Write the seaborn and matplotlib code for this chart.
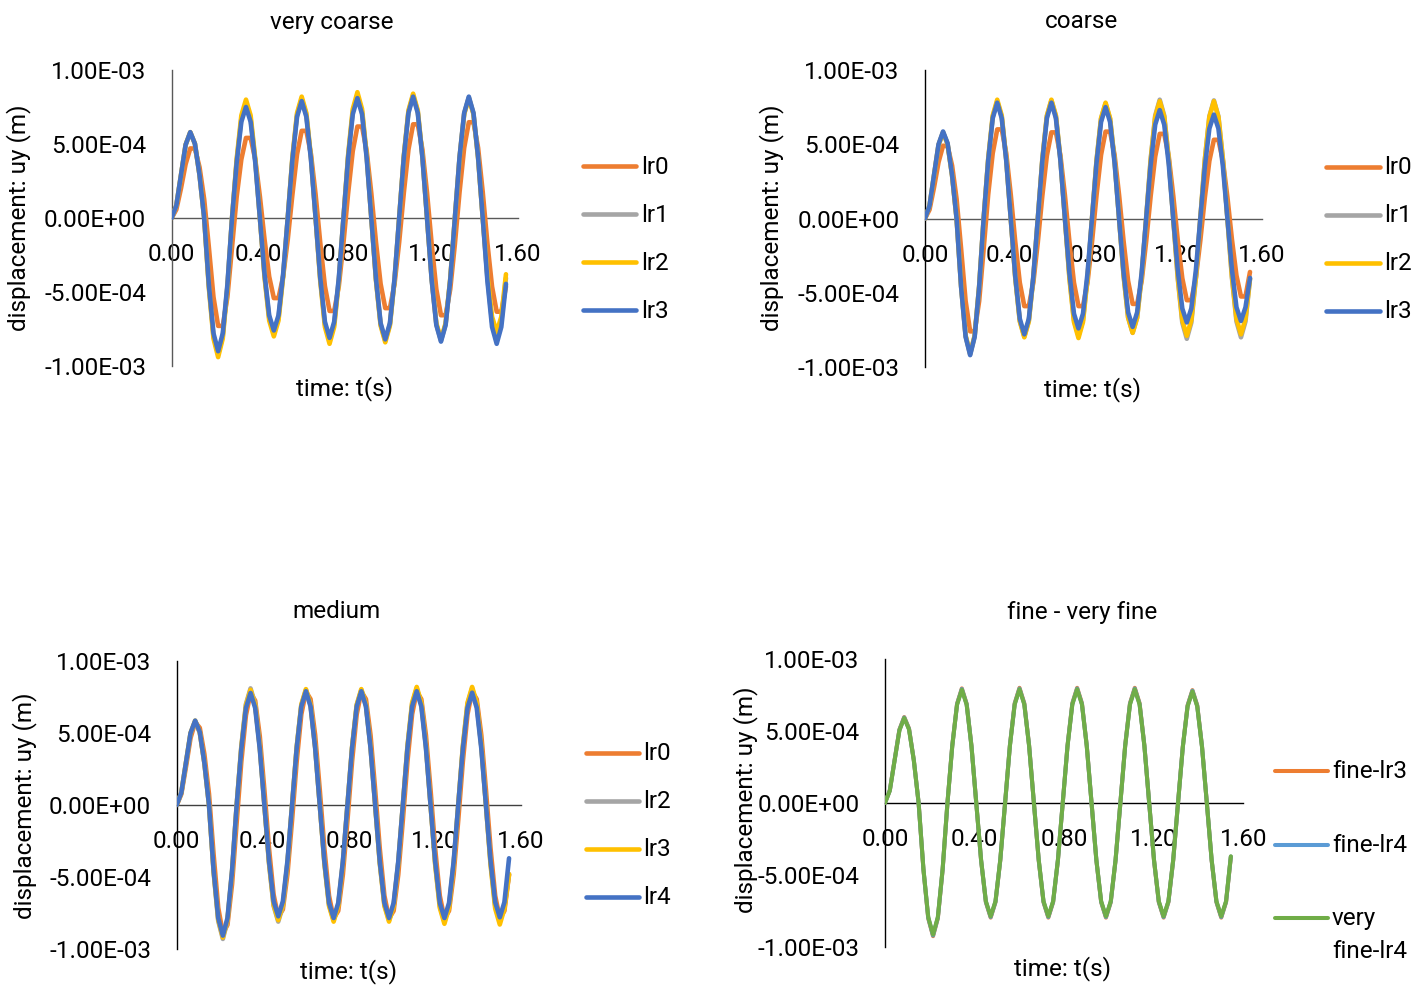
import numpy as np
import pandas as pd
import matplotlib
matplotlib.use("Agg")
import matplotlib.pyplot as plt
from matplotlib.lines import Line2D
import seaborn as sns

sns.set_theme(style="white")
plt.rcParams["font.family"] = ["Roboto", "DejaVu Sans"]

# output sample times in seconds (73 records, dt = 0.02145 s)
time = np.round(np.arange(73) * 0.02145, 5)

# vertical displacement uy, in units of 1e-4 m
# --- very coarse mesh ---
vc_lr0 = [0, 0.57, 2.0, 3.64, 4.70, 4.69, 3.43, 1.26,
          -1.96, -5.34, -7.29, -7.29, -5.34, -1.96,
          1.45, 3.96, 5.41, 5.41, 3.96, 1.45,
          -1.45, -3.96, -5.41, -5.41, -3.96, -1.45,
          1.58, 4.31, 5.89, 5.89, 4.31, 1.58,
          -1.68, -4.60, -6.28, -6.28, -4.60, -1.68,
          1.66, 4.52, 6.18, 6.18, 4.52, 1.66,
          -1.63, -4.45, -6.09, -6.09, -4.45, -1.63,
          1.70, 4.63, 6.33, 6.33, 4.63, 1.70,
          -1.76, -4.81, -6.57, -6.57, -4.81, -1.76,
          1.74, 4.74, 6.47, 6.47, 4.74, 1.74,
          -1.70, -4.63, -6.33, -6.33, -4.63]
vc_lr1 = [0, 0.84, 2.89, 4.94, 5.78, 5.01, 2.89,
          0, -4.6, -7.97, -9.2, -7.97, -4.6,
          0, 3.88, 6.71, 7.75, 6.71, 3.88,
          0, -3.9, -6.75, -7.8, -6.75, -3.9,
          0, 4.03, 6.97, 8.05, 6.97, 4.03,
          0, -4.15, -7.19, -8.3, -7.19, -4.15,
          0, 4.15, 7.19, 8.3, 7.19, 4.15,
          0, -4.15, -7.19, -8.3, -7.19, -4.15,
          0, 4.15, 7.19, 8.3, 7.19, 4.15,
          0, -4.15, -7.19, -8.3, -7.19, -4.15,
          0, 4.08, 7.06, 8.15, 7.06, 4.08,
          0, -4.05, -7.01, -8.1, -7.01, -4.05]
vc_lr2 = [0, 0.85, 2.9, 4.95, 5.8, 5.02, 2.9,
          0, -4.7, -8.14, -9.4, -8.14, -4.7,
          0, 4.0, 6.93, 8.0, 6.93, 4.0,
          0, -4.0, -6.93, -8.0, -6.93, -4.0,
          0, 4.1, 7.1, 8.2, 7.1, 4.1,
          0, -4.25, -7.36, -8.5, -7.36, -4.25,
          0, 4.25, 7.36, 8.5, 7.36, 4.25,
          0, -4.2, -7.27, -8.4, -7.27, -4.2,
          0, 4.2, 7.27, 8.4, 7.27, 4.2,
          0, -4.1, -7.1, -8.2, -7.1, -4.1,
          0, 4.05, 7.01, 8.1, 7.01, 4.05,
          0, -3.85, -6.67, -7.7, -6.67, -3.8]
vc_lr3 = [0, 0.85, 2.9, 4.95, 5.8, 5.02, 2.9,
          0, -4.5, -7.79, -9.0, -7.79, -4.5,
          0, 3.75, 6.5, 7.5, 6.5, 3.75,
          0, -3.8, -6.58, -7.6, -6.58, -3.8,
          0, 3.95, 6.84, 7.9, 6.84, 3.95,
          0, -4.05, -7.01, -8.1, -7.01, -4.05,
          0, 4.05, 7.01, 8.1, 7.01, 4.05,
          0, -4.1, -7.1, -8.2, -7.1, -4.1,
          0, 4.1, 7.1, 8.2, 7.1, 4.1,
          0, -4.18, -7.23, -8.35, -7.23, -4.18,
          0, 4.1, 7.1, 8.2, 7.1, 4.1,
          0, -4.25, -7.36, -8.5, -7.36, -4.45]

# --- coarse mesh ---
c_lr0 = [0, 0.59, 2.09, 3.79, 4.90, 4.88, 3.57, 1.31,
         -2.04, -5.56, -7.60, -7.60, -5.56, -2.04,
         1.61, 4.39, 6.0, 6.0, 4.39, 1.61,
         -1.58, -4.32, -5.90, -5.90, -4.32, -1.58,
         1.55, 4.24, 5.80, 5.80, 4.24, 1.55,
         -1.58, -4.32, -5.90, -5.90, -4.32, -1.58,
         1.57, 4.28, 5.85, 5.85, 4.28, 1.57,
         -1.54, -4.21, -5.75, -5.75, -4.21, -1.54,
         1.53, 4.17, 5.70, 5.70, 4.17, 1.53,
         -1.47, -4.02, -5.50, -5.50, -4.02, -1.47,
         1.42, 3.88, 5.30, 5.30, 3.88, 1.42,
         -1.41, -3.84, -5.25, -5.25, -3.6]
c_lr1 = [0, 0.85, 2.9, 4.95, 5.8, 5.02, 2.9,
         0, -4.58, -7.92, -9.15, -7.92, -4.58,
         0, 3.95, 6.84, 7.9, 6.84, 3.95,
         0, -3.98, -6.88, -7.95, -6.88, -3.98,
         0, 3.98, 6.88, 7.95, 6.88, 3.98,
         0, -3.95, -6.84, -7.9, -6.84, -3.95,
         0, 3.88, 6.71, 7.75, 6.71, 3.88,
         0, -3.85, -6.67, -7.7, -6.67, -3.85,
         0, 4.0, 6.93, 8.0, 6.93, 4.0,
         0, -4.05, -7.01, -8.1, -7.01, -4.05,
         0, 3.98, 6.88, 7.95, 6.88, 3.98,
         0, -4.0, -6.93, -8.0, -6.93, -4.05]
c_lr2 = [0, 0.85, 2.9, 4.95, 5.8, 5.02, 2.9,
         0, -4.55, -7.88, -9.1, -7.88, -4.55,
         0, 4.0, 6.93, 8.0, 6.93, 4.0,
         0, -4.0, -6.93, -8.0, -6.93, -4.0,
         0, 4.0, 6.93, 8.0, 6.93, 4.0,
         0, -4.03, -6.97, -8.05, -6.97, -4.03,
         0, 3.9, 6.75, 7.8, 6.75, 3.9,
         0, -3.85, -6.67, -7.7, -6.67, -3.85,
         0, 3.95, 6.84, 7.9, 6.84, 3.95,
         0, -3.95, -6.84, -7.9, -6.84, -3.95,
         0, 3.95, 6.84, 7.9, 6.84, 3.95,
         0, -3.9, -6.75, -7.8, -6.75, -4.05]
c_lr3 = [0, 0.86, 2.93, 5.0, 5.86, 5.07, 2.93,
         0, -4.6, -7.97, -9.2, -7.97, -4.6,
         0, 3.9, 6.75, 7.8, 6.75, 3.9,
         0, -3.9, -6.75, -7.8, -6.75, -3.9,
         0, 3.9, 6.75, 7.8, 6.75, 3.9,
         0, -3.7, -6.41, -7.4, -6.41, -3.7,
         0, 3.75, 6.5, 7.5, 6.5, 3.75,
         0, -3.65, -6.32, -7.3, -6.32, -3.65,
         0, 3.65, 6.32, 7.3, 6.32, 3.65,
         0, -3.5, -6.06, -7.0, -6.06, -3.5,
         0, 3.5, 6.06, 7.0, 6.06, 3.5,
         0, -3.45, -5.98, -6.9, -5.98, -4.0]

# --- medium mesh ---
m_lr0 = [0, 0.75, 2.63, 4.65, 5.75, 5.36, 3.53, 0.76,
         -3.45, -7.14, -8.92, -8.32, -5.48, -1.18,
         3.01, 6.23, 7.78, 7.25, 4.78, 1.03,
         -3.01, -6.23, -7.78, -7.25, -4.78, -1.03,
         3.04, 6.30, 7.88, 7.35, 4.84, 1.04,
         -3.04, -6.30, -7.88, -7.35, -4.84, -1.04,
         3.04, 6.30, 7.88, 7.35, 4.84, 1.04,
         -3.04, -6.30, -7.88, -7.35, -4.84, -1.04,
         3.04, 6.30, 7.88, 7.35, 4.84, 1.04,
         -3.04, -6.30, -7.88, -7.35, -4.84, -1.04,
         3.04, 6.30, 7.88, 7.35, 4.84, 1.04,
         -3.04, -6.30, -7.88, -7.35, -4.84]
m_lr2 = [0, 0.85, 2.9, 4.95, 5.8, 5.02, 2.9,
         0, -4.65, -8.05, -9.3, -8.05, -4.65,
         0, 4.05, 7.01, 8.1, 7.01, 4.05,
         0, -4.05, -7.01, -8.1, -7.01, -4.05,
         0, 4.0, 6.93, 8.0, 6.93, 4.0,
         0, -4.0, -6.93, -8.0, -6.93, -4.0,
         0, 4.0, 6.93, 8.0, 6.93, 4.0,
         0, -4.0, -6.93, -8.0, -6.93, -4.0,
         0, 4.05, 7.01, 8.1, 7.01, 4.05,
         0, -4.05, -7.01, -8.1, -7.01, -4.05,
         0, 4.05, 7.01, 8.1, 7.01, 4.05,
         0, -4.05, -7.01, -8.1, -7.01, -4.8]
m_lr3 = [0, 0.86, 2.93, 5.0, 5.86, 5.07, 2.93,
         0, -4.6, -7.97, -9.2, -7.97, -4.6,
         0, 4.0, 6.93, 8.0, 6.93, 4.0,
         0, -4.0, -6.93, -8.0, -6.93, -4.0,
         0, 4.03, 6.97, 8.05, 6.97, 4.03,
         0, -4.05, -7.01, -8.1, -7.01, -4.05,
         0, 4.03, 6.97, 8.05, 6.97, 4.03,
         0, -4.05, -7.01, -8.1, -7.01, -4.05,
         0, 4.1, 7.1, 8.2, 7.1, 4.1,
         0, -4.13, -7.14, -8.25, -7.14, -4.13,
         0, 4.1, 7.1, 8.2, 7.1, 4.1,
         0, -4.15, -7.19, -8.3, -7.19, -4.8]
m_lr4 = [0, 0.86, 2.93, 5.0, 5.86, 5.07, 2.93,
         0, -4.54, -7.85, -9.07, -7.85, -4.54,
         0, 3.89, 6.74, 7.78, 6.74, 3.89,
         0, -3.87, -6.69, -7.73, -6.69, -3.87,
         0, 3.95, 6.84, 7.9, 6.84, 3.95,
         0, -3.93, -6.80, -7.85, -6.80, -3.93,
         0, 3.95, 6.84, 7.9, 6.84, 3.95,
         0, -3.93, -6.80, -7.85, -6.80, -3.93,
         0, 3.95, 6.84, 7.9, 6.84, 3.95,
         0, -3.93, -6.80, -7.85, -6.80, -3.93,
         0, 3.9, 6.75, 7.8, 6.75, 3.9,
         0, -3.9, -6.75, -7.8, -6.75, -3.7]

# --- fine / very fine meshes ---
f_lr3 = [0, 0.87, 2.99, 5.10, 5.97, 5.17, 2.99,
         0, -4.63, -8.01, -9.25, -8.01, -4.63,
         0, 3.98, 6.89, 7.96, 6.89, 3.98,
         0, -3.98, -6.89, -7.96, -6.89, -3.98,
         0, 4.0, 6.93, 8.0, 6.93, 4.0,
         0, -3.98, -6.89, -7.96, -6.89, -3.98,
         0, 4.0, 6.93, 8.0, 6.93, 4.0,
         0, -3.98, -6.89, -7.96, -6.89, -3.98,
         0, 4.0, 6.93, 8.0, 6.93, 4.0,
         0, -3.98, -6.89, -7.96, -6.89, -3.98,
         0, 3.92, 6.79, 7.84, 6.79, 3.92,
         0, -3.98, -6.89, -7.96, -6.89, -3.75]
f_lr4 = [0, 0.87, 2.97, 5.07, 5.94, 5.14, 2.97,
         0, -4.6, -7.97, -9.2, -7.97, -4.6,
         0, 3.96, 6.86, 7.92, 6.86, 3.96,
         0, -3.96, -6.86, -7.92, -6.86, -3.96,
         0, 3.98, 6.88, 7.95, 6.88, 3.98,
         0, -3.96, -6.86, -7.92, -6.86, -3.96,
         0, 3.98, 6.88, 7.95, 6.88, 3.98,
         0, -3.96, -6.86, -7.92, -6.86, -3.96,
         0, 3.98, 6.88, 7.95, 6.88, 3.98,
         0, -3.96, -6.86, -7.92, -6.86, -3.96,
         0, 3.9, 6.75, 7.8, 6.75, 3.9,
         0, -3.96, -6.86, -7.92, -6.86, -3.72]
vf_lr4 = [0, 0.86, 2.95, 5.04, 5.9, 5.11, 2.95,
          0, -4.57, -7.92, -9.14, -7.92, -4.57,
          0, 3.94, 6.82, 7.87, 6.82, 3.94,
          0, -3.94, -6.82, -7.87, -6.82, -3.94,
          0, 3.95, 6.84, 7.9, 6.84, 3.95,
          0, -3.94, -6.82, -7.87, -6.82, -3.94,
          0, 3.95, 6.84, 7.9, 6.84, 3.95,
          0, -3.94, -6.82, -7.87, -6.82, -3.94,
          0, 3.95, 6.84, 7.9, 6.84, 3.95,
          0, -3.94, -6.82, -7.87, -6.82, -3.94,
          0, 3.88, 6.71, 7.75, 6.71, 3.88,
          0, -3.94, -6.82, -7.87, -6.82, -3.7]

x_ticks = [0.0, 0.4, 0.8, 1.2, 1.6]
x_tick_labels = ["0.00", "0.40", "0.80", "1.20", "1.60"]
y_ticks = [1e-3, 5e-4, 0.0, -5e-4, -1e-3]
y_tick_labels = ["1.00E-03", "5.00E-04", "0.00E+00", "-5.00E-04", "-1.00E-03"]

ORANGE, GRAY, YELLOW, BLUE = "#ED7D31", "#A5A5A5", "#FFC000", "#4472C4"
LIGHT_BLUE, GREEN = "#5B9BD5", "#70AD47"

W, H = 1427, 986
fig = plt.figure(figsize=(W / 100, H / 100), dpi=100)


def fx(px):
    return px / W


def fy(py):
    return 1.0 - py / H


FS = 17.5

panels = [
    dict(title="very coarse", names=["lr0", "lr1", "lr2", "lr3"],
         data=[vc_lr0, vc_lr1, vc_lr2, vc_lr3],
         colors=[ORANGE, GRAY, YELLOW, BLUE],
         box=(171.7, 518.0, 70, 366), title_xy=(332, 22), ylabel_xy=(19, 218),
         xlabel_xy=(345, 389), legend_x=(583, 636, 641),
         legend_y=[166, 214, 262, 310], lw=3.3,
         axis_colors=("#595959", "#595959")),
    dict(title="coarse", names=["lr0", "lr1", "lr2", "lr3"],
         data=[c_lr0, c_lr1, c_lr2, c_lr3],
         colors=[ORANGE, GRAY, YELLOW, BLUE],
         box=(925.0, 1261.7, 70, 367), title_xy=(1081, 22), ylabel_xy=(772, 218),
         xlabel_xy=(1093, 390), legend_x=(1326, 1380, 1384),
         legend_y=[167, 215, 263, 311], lw=3.3,
         axis_colors=("#000000", "#595959")),
    dict(title="medium", names=["lr0", "lr2", "lr3", "lr4"],
         data=[m_lr0, m_lr2, m_lr3, m_lr4],
         colors=[ORANGE, GRAY, YELLOW, BLUE],
         box=(176.7, 521.0, 661, 949), title_xy=(336, 612), ylabel_xy=(25, 806),
         xlabel_xy=(348, 972), legend_x=(586, 639, 643),
         legend_y=[753, 801, 849, 897], lw=3.3,
         axis_colors=("#000000", "#404040")),
    dict(title="fine - very fine", names=["fine-lr3", "fine-lr4", "very fine-lr4"],
         data=[f_lr3, f_lr4, vf_lr4],
         colors=[ORANGE, LIGHT_BLUE, GREEN],
         box=(885.0, 1243.3, 659, 947), title_xy=(1082, 612), ylabel_xy=(746, 800),
         xlabel_xy=(1063, 969), legend_x=(1275, 1328, 1332),
         legend_y=[771, 845, 918], lw=2.9,
         axis_colors=("#000000", "#000000")),
]

for p in panels:
    x0, x1, ytop, ybot = p["box"]
    ax = fig.add_axes([fx(x0), fy(ybot), fx(x1) - fx(x0), (ybot - ytop) / H])
    ax.patch.set_alpha(0)

    n = len(time)
    for arr in p["data"]:
        assert len(arr) == n
    df = pd.DataFrame({
        "time": np.tile(time, len(p["names"])),
        "uy": np.concatenate([np.asarray(a, dtype=float) for a in p["data"]]) * 1e-4,
        "series": np.repeat(p["names"], n),
    })
    sns.lineplot(data=df, x="time", y="uy", hue="series", hue_order=p["names"],
                 palette=p["colors"], linewidth=p["lw"], estimator=None,
                 legend=False, ax=ax)
    for ln in ax.lines:
        ln.set_solid_capstyle("round")
        ln.set_solid_joinstyle("round")
        ln.set_zorder(3)

    ax.set_xlim(0, 1.6)
    ax.set_ylim(-1e-3, 1e-3)
    ax.set_xticks(x_ticks)
    ax.set_xticklabels(x_tick_labels)
    ax.set_yticks(y_ticks)
    ax.set_yticklabels(y_tick_labels)
    ax.set_xlabel("")
    ax.set_ylabel("")
    ax.grid(False)
    ax.set_axisbelow(True)

    ax.spines["top"].set_visible(False)
    ax.spines["right"].set_visible(False)
    ax.spines["bottom"].set_position(("data", 0))
    ax.spines["left"].set_color(p["axis_colors"][0])
    ax.spines["bottom"].set_color(p["axis_colors"][1])
    for s in ("left", "bottom"):
        ax.spines[s].set_linewidth(1.0)
        ax.spines[s].set_zorder(1)
    ax.tick_params(axis="both", length=0, labelsize=FS, labelcolor="black")
    ax.tick_params(axis="x", pad=18)
    ax.tick_params(axis="y", pad=18.5)

    tx, ty = p["title_xy"]
    fig.text(fx(tx), fy(ty), p["title"], ha="center", va="center",
             fontsize=FS, color="black")
    lx, ly = p["ylabel_xy"]
    fig.text(fx(lx), fy(ly), "displacement: uy (m)", rotation=90,
             ha="center", va="center", fontsize=FS, color="black")
    xx, xy = p["xlabel_xy"]
    fig.text(fx(xx), fy(xy), "time: t(s)", ha="center", va="center",
             fontsize=FS, color="black")

    # legend entries
    hx0, hx1, tx0 = p["legend_x"]
    for name, col, yy in zip(p["names"], p["colors"], p["legend_y"]):
        fig.add_artist(Line2D([fx(hx0), fx(hx1)], [fy(yy), fy(yy)],
                              transform=fig.transFigure, color=col,
                              linewidth=p["lw"], solid_capstyle="round"))
        if name == "very fine-lr4":
            fig.text(fx(tx0), fy(yy + 1), "very", ha="left", va="center",
                     fontsize=FS, color="black")
            fig.text(fx(tx0), fy(yy + 34), "fine-lr4", ha="left", va="center",
                     fontsize=FS, color="black")
        else:
            fig.text(fx(tx0), fy(yy + 1), name, ha="left", va="center",
                     fontsize=FS, color="black")

fig.savefig("out.png", dpi=100)
